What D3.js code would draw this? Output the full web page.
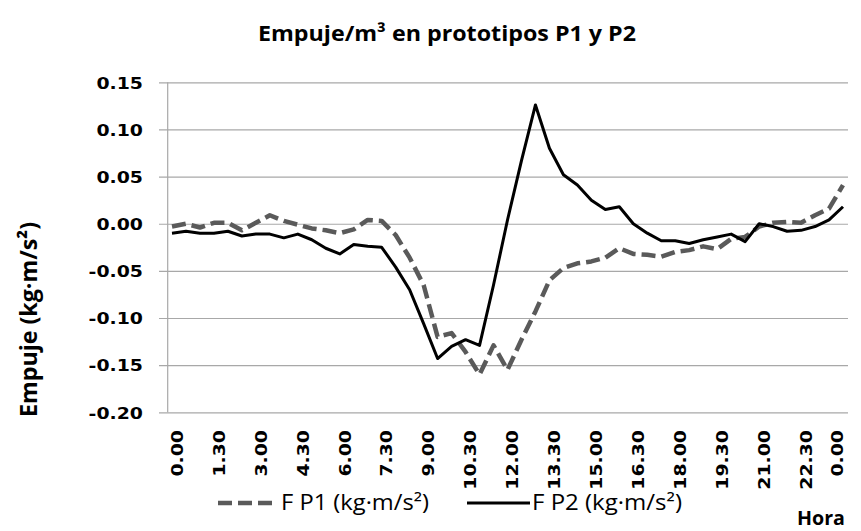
<!DOCTYPE html>
<html lang="es">
<head>
<meta charset="utf-8" />
<title>Empuje/m3 en prototipos P1 y P2</title>
<script src="https://cdn.jsdelivr.net/npm/d3@7"></script>
<style>
  body { margin: 0; background: #fff; }
  svg { display: block; }
</style>
</head>
<body>
<script>
// horas (cada 30 min)
var horas = ["0.00","0.30","1.00","1.30","2.00","2.30","3.00","3.30","4.00","4.30",
  "5.00","5.30","6.00","6.30","7.00","7.30","8.00","8.30","9.00","9.30",
  "10.00","10.30","11.00","11.30","12.00","12.30","13.00","13.30","14.00","14.30",
  "15.00","15.30","16.00","16.30","17.00","17.30","18.00","18.30","19.00","19.30",
  "20.00","20.30","21.00","21.30","22.00","22.30","23.00","23.30","0.00"];

var fP1 = [-0.003,0.000,-0.004,0.001,0.001,-0.007,0.001,0.009,0.003,-0.001,
  -0.005,-0.007,-0.010,-0.006,0.004,0.003,-0.012,-0.036,-0.065,-0.120,
  -0.116,-0.136,-0.160,-0.129,-0.155,-0.123,-0.093,-0.060,-0.047,-0.042,
  -0.040,-0.036,-0.026,-0.032,-0.033,-0.035,-0.030,-0.028,-0.024,-0.027,
  -0.016,-0.014,-0.003,0.001,0.002,0.001,0.009,0.016,0.041];

var fP2 = [-0.010,-0.008,-0.010,-0.010,-0.008,-0.013,-0.011,-0.011,-0.015,-0.011,
  -0.017,-0.026,-0.032,-0.022,-0.024,-0.025,-0.046,-0.070,-0.106,-0.143,
  -0.130,-0.123,-0.129,-0.065,0.004,0.067,0.126,0.080,0.052,0.041,
  0.025,0.015,0.018,0.000,-0.010,-0.018,-0.018,-0.021,-0.017,-0.014,
  -0.011,-0.019,0.000,-0.003,-0.008,-0.007,-0.003,0.004,0.018];

var yTicks = [0.15,0.10,0.05,0.00,-0.05,-0.10,-0.15,-0.20];
var series = [
  {name:"F P1 (kg\u00b7m/s\u00b2)", values:fP1, color:"#5a5a5a", width:4.5, dash:"14,6"},
  {name:"F P2 (kg\u00b7m/s\u00b2)", values:fP2, color:"#000000", width:3, dash:null}
];

var W = 861, H = 531;
var svg = d3.select("body").append("svg").attr("width",W).attr("height",H);

var x = d3.scalePoint().domain(d3.range(horas.length)).range([172,843]);
var y = d3.scaleLinear().domain([-0.20,0.15]).range([412.3,82.3]);

// grid
svg.append("g")
  .attr("transform","translate(848,0)")
  .call(d3.axisLeft(y).tickValues(yTicks).tickSize(689).tickFormat(""))
  .call(function(g){
    g.select(".domain").remove();
    g.selectAll("line").attr("stroke","#a8a8a8").attr("stroke-width",1.2);
  });

// eje y
svg.append("line")
  .attr("x1",167.7).attr("x2",167.7).attr("y1",y(0.15)).attr("y2",y(-0.20))
  .attr("stroke","#a8a8a8").attr("stroke-width",1.2);

// etiquetas y
var yAx = svg.append("g")
  .attr("transform","translate(143,0)")
  .call(d3.axisLeft(y).tickValues(yTicks).tickSize(0).tickPadding(0));
yAx.select(".domain").remove();
yAx.selectAll("text")
  .attr("x",null).attr("dy","0.36em")
  .attr("transform","scale(1.18,1)")
  .style("font-family","'DejaVu Sans'").style("font-weight","bold")
  .style("font-size","16px").attr("fill","#000")
  .text(function(d){ return d3.format(".2f")(d).replace("\u2212","-"); });

// etiquetas x
var xAx = svg.append("g")
  .attr("transform","translate(0,430)")
  .call(d3.axisBottom(x).tickValues(d3.range(0,horas.length,3)).tickSize(0).tickFormat(function(i){ return horas[i]; }));
xAx.select(".domain").remove();
xAx.selectAll(".tick").attr("transform",function(i){
  return "translate(" + Math.min(x(i)+5, 837) + ",0)";
});
xAx.selectAll("text")
  .attr("y",null).attr("x",null).attr("dy","0.36em")
  .attr("text-anchor","end")
  .attr("transform","rotate(-90) scale(1.18,1)")
  .style("font-family","'DejaVu Sans'").style("font-weight","bold")
  .style("font-size","16px").attr("fill","#000");

// lineas
var line = d3.line().x(function(d,i){ return x(i); }).y(function(d){ return y(d); });
series.forEach(function(s){
  svg.append("path")
    .datum(s.values)
    .attr("d",line)
    .attr("fill","none")
    .attr("stroke",s.color)
    .attr("stroke-width",s.width)
    .attr("stroke-linejoin","round")
    .attr("stroke-dasharray",s.dash);
});

// titulo
svg.append("text")
  .attr("x",258).attr("y",41)
  .attr("textLength",378).attr("lengthAdjust","spacingAndGlyphs")
  .style("font-family","'Open Sans'").style("font-weight","bold").style("font-size","22px")
  .text("Empuje/m\u00b3 en prototipos P1 y P2");

// titulo eje y
svg.append("text")
  .attr("transform","translate(37,417) rotate(-90)")
  .attr("textLength",195).attr("lengthAdjust","spacingAndGlyphs")
  .style("font-family","'Open Sans'").style("font-weight","bold").style("font-size","24px")
  .text("Empuje (kg\u00b7m/s\u00b2)");

// Hora
svg.append("text")
  .attr("x",797).attr("y",525)
  .attr("textLength",48).attr("lengthAdjust","spacingAndGlyphs")
  .style("font-family","'Open Sans'").style("font-weight","bold").style("font-size","20px")
  .text("Hora");

// leyenda
var legPos = [{x1:218,x2:278,tx:281,tw:148},{x1:467,x2:530,tx:532,tw:150}];
series.forEach(function(s,k){
  var p = legPos[k];
  svg.append("line")
    .attr("x1",p.x1).attr("x2",p.x2).attr("y1",503).attr("y2",503)
    .attr("stroke",s.color).attr("stroke-width",s.width)
    .attr("stroke-dasharray",s.dash);
  svg.append("text")
    .attr("x",p.tx).attr("y",510)
    .attr("textLength",p.tw).attr("lengthAdjust","spacingAndGlyphs")
    .style("font-family","'Open Sans'").style("font-size","21px")
    .text(s.name);
});
</script>
</body>
</html>
